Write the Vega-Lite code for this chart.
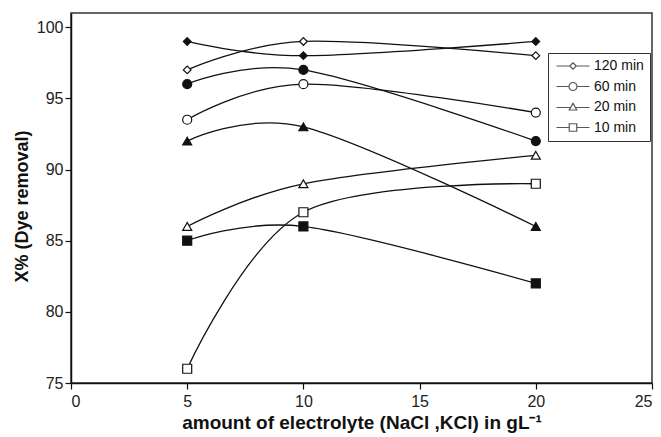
{
  "$schema": "https://vega.github.io/schema/vega-lite/v6.json",
  "width": 581,
  "height": 370,
  "autosize": {"type": "none"},
  "padding": {"left": 71, "top": 13, "right": 9, "bottom": 54},
  "background": "white",
  "config": {
    "font": "Liberation Sans",
    "view": {"stroke": "#333", "strokeWidth": 1.5},
    "axis": {
      "grid": false,
      "domainColor": "#111",
      "domainWidth": 1.5,
      "tickColor": "#111",
      "tickWidth": 1.2,
      "tickSize": 6,
      "labelFont": "Liberation Sans",
      "labelFontSize": 16,
      "labelColor": "#222",
      "titleFont": "Liberation Sans",
      "titleFontSize": 19,
      "titleFontWeight": "bold",
      "titleColor": "#111"
    }
  },
  "data": {
    "values": [
      {"conc": 5, "removal": 97, "time": "120 min", "salt": "NaCl"},
      {"conc": 10, "removal": 99, "time": "120 min", "salt": "NaCl"},
      {"conc": 20, "removal": 98, "time": "120 min", "salt": "NaCl"},
      {"conc": 5, "removal": 99, "time": "120 min", "salt": "KCl"},
      {"conc": 10, "removal": 98, "time": "120 min", "salt": "KCl"},
      {"conc": 20, "removal": 99, "time": "120 min", "salt": "KCl"},
      {"conc": 5, "removal": 93.5, "time": "60 min", "salt": "NaCl"},
      {"conc": 10, "removal": 96, "time": "60 min", "salt": "NaCl"},
      {"conc": 20, "removal": 94, "time": "60 min", "salt": "NaCl"},
      {"conc": 5, "removal": 96, "time": "60 min", "salt": "KCl"},
      {"conc": 10, "removal": 97, "time": "60 min", "salt": "KCl"},
      {"conc": 20, "removal": 92, "time": "60 min", "salt": "KCl"},
      {"conc": 5, "removal": 86, "time": "20 min", "salt": "NaCl"},
      {"conc": 10, "removal": 89, "time": "20 min", "salt": "NaCl"},
      {"conc": 20, "removal": 91, "time": "20 min", "salt": "NaCl"},
      {"conc": 5, "removal": 92, "time": "20 min", "salt": "KCl"},
      {"conc": 10, "removal": 93, "time": "20 min", "salt": "KCl"},
      {"conc": 20, "removal": 86, "time": "20 min", "salt": "KCl"},
      {"conc": 5, "removal": 76, "time": "10 min", "salt": "NaCl"},
      {"conc": 10, "removal": 87, "time": "10 min", "salt": "NaCl"},
      {"conc": 20, "removal": 89, "time": "10 min", "salt": "NaCl"},
      {"conc": 5, "removal": 85, "time": "10 min", "salt": "KCl"},
      {"conc": 10, "removal": 86, "time": "10 min", "salt": "KCl"},
      {"conc": 20, "removal": 82, "time": "10 min", "salt": "KCl"}
    ]
  },
  "encoding": {
    "x": {
      "field": "conc",
      "type": "quantitative",
      "scale": {"domain": [0, 25], "nice": false},
      "axis": {
        "values": [0, 5, 10, 15, 20, 25],
        "labelPadding": 4,
        "titlePadding": 4,
        "title": "amount of electrolyte (NaCl ,KCl) in gL⁻¹"
      }
    },
    "y": {
      "field": "removal",
      "type": "quantitative",
      "scale": {"domain": [75, 101], "nice": false, "zero": false},
      "axis": {
        "values": [75, 80, 85, 90, 95, 100],
        "labelPadding": 2,
        "titlePadding": 5,
        "titleFontSize": 18,
        "titleY": 193,
        "title": "X% (Dye removal)"
      }
    }
  },
  "layer": [
    {
      "mark": {"type": "line", "interpolate": "cardinal", "color": "#111", "strokeWidth": 1.3},
      "encoding": {
        "detail": [{"field": "time"}, {"field": "salt"}]
      }
    },
    {
      "mark": {"type": "point", "filled": true, "size": 81, "stroke": "#111", "strokeWidth": 1.2, "opacity": 1},
      "encoding": {
        "shape": {
          "field": "time",
          "type": "nominal",
          "scale": {
            "domain": ["120 min", "60 min", "20 min", "10 min"],
            "range": ["M-0.85,0L0,-0.85L0.85,0L0,0.85Z", "circle", "triangle-up", "square"]
          },
          "legend": null
        },
        "fill": {
          "field": "salt",
          "type": "nominal",
          "scale": {"domain": ["NaCl", "KCl"], "range": ["white", "#111"]},
          "legend": null
        }
      }
    },
    {
      "transform": [{"filter": "false"}],
      "mark": {"type": "point", "filled": false, "stroke": "#111", "strokeWidth": 1.2, "strokeOpacity": 1},
      "encoding": {
        "shape": {
          "field": "time",
          "type": "nominal",
          "scale": {
            "domain": ["120 min", "60 min", "20 min", "10 min"],
            "range": [
              "M-3.3,0H-0.65M0.65,0H3.3M0,-0.65L0.65,0L0,0.65L-0.65,0Z",
              "M-3.3,0H-0.8M0.8,0H3.3M0.8,0A0.8,0.8,0,1,1,-0.8,0A0.8,0.8,0,1,1,0.8,0Z",
              "M-3.3,0.1H-0.45M0.45,0.1H3.3M0,-0.75L0.75,0.6L-0.75,0.6Z",
              "M-3.3,0H-0.75M0.75,0H3.3M-0.75,-0.75H0.75V0.75H-0.75Z"
            ]
          },
          "legend": {
            "title": null,
            "orient": "none",
            "legendX": 477,
            "legendY": 40,
            "padding": 6,
            "strokeColor": "#333",
            "fillColor": "white",
            "symbolSize": 100,
            "symbolOffset": 12,
            "symbolStrokeColor": "#111",
            "symbolStrokeWidth": 1.2,
            "labelOffset": 14,
            "labelFont": "Liberation Sans",
            "labelFontSize": 14,
            "labelColor": "#111",
            "rowPadding": 6.5
          }
        }
      }
    }
  ],
  "resolve": {"scale": {"shape": "independent"}, "legend": {"shape": "independent"}}
}
